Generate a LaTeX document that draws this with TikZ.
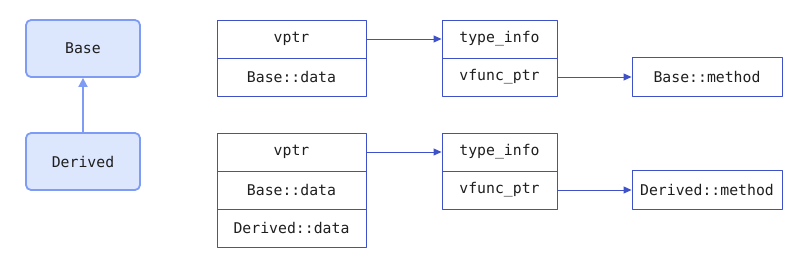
\documentclass[tikz,border=0pt]{standalone}
\usepackage{fontspec}
\setmonofont{DejaVu Sans Mono}
\usetikzlibrary{arrows.meta}
\definecolor{vtLine}{HTML}{3F51C8}
\definecolor{vtInk}{HTML}{1E1E1E}
\definecolor{clsFill}{HTML}{DCE6FD}
\definecolor{clsLine}{HTML}{7F9CF5}
\tikzset{
 layout/.style={font=\ttfamily\fontsize{14.8}{17}\selectfont,text=vtInk,line join=round},
 cls/.style={rectangle,rounded corners=5pt,draw=clsLine,fill=clsFill,line width=1.8pt,
   minimum width=114pt,minimum height=57pt,inner sep=0pt},
 slot/.style={rectangle,draw=vtLine,line width=.9pt,minimum width=149pt,minimum height=38pt,inner sep=0pt},
 vslot/.style={slot,minimum width=115pt},
 fn/.style={slot,minimum width=150pt,minimum height=39pt},
 inherit/.style={draw=clsLine,line width=1.8pt,-{Triangle[length=9pt,width=9pt]}},
 ptr/.style={draw=vtLine,line width=.9pt,-{Triangle[length=8pt,width=7pt]}}
}

\begin{document}
\begin{tikzpicture}[layout,x=1pt,y=-1pt]
 \useasboundingbox (0,0) rectangle (803,266);
 % class hierarchy
 \node[cls] (base) at (83,48.5) {Base};
 \node[cls] (derived) at (83,161.5) {Derived};
 \draw[inherit] (derived) -- (base);
 % Base object and its vtable
 \node[slot] (bVptr) at (291.5,39) {vptr};
 \node[slot] (bData) at (291.5,77) {Base::data};
 \node[vslot] (bType) at (499.5,39) {type\_info};
 \node[vslot] (bFunc) at (499.5,77) {vfunc\_ptr};
 \node[fn] (bMethod) at (707,77) {Base::method};
 \draw[ptr] (bVptr.east) -- (bType.west);
 \draw[ptr] (bFunc.east) -- (bMethod.west);
 % Derived object and its vtable
 \node[slot] (dVptr) at (291.5,152) {vptr};
 \node[slot] (dBase) at (291.5,190) {Base::data};
 \node[slot] (dData) at (291.5,228) {Derived::data};
 \node[vslot] (dType) at (499.5,152) {type\_info};
 \node[vslot] (dFunc) at (499.5,190) {vfunc\_ptr};
 \node[fn] (dMethod) at (707,190) {Derived::method};
 \draw[ptr] (dVptr.east) -- (dType.west);
 \draw[ptr] (dFunc.east) -- (dMethod.west);
\end{tikzpicture}
\end{document}
